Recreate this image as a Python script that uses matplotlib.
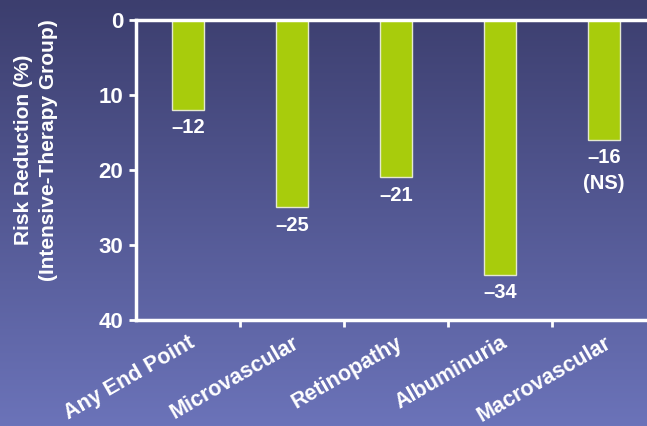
import numpy as np
import matplotlib
matplotlib.use("Agg")
from matplotlib import pyplot as plt

categories = ["Any End Point", "Microvascular", "Retinopathy", "Albuminuria", "Macrovascular"]
reduction = [12, 25, 21, 34, 16]
value_labels = ["\u201312", "\u201325", "\u201321", "\u201334", "\u201316\n(NS)"]
y_ticks = [0, 10, 20, 30, 40]

plt.rcParams['font.family'] = ['Liberation Sans', 'DejaVu Sans']
plt.rcParams['font.weight'] = 'bold'

fig = plt.figure(figsize=(6.47, 4.26), dpi=100)

# gradient background
bg = fig.add_axes([0, 0, 1, 1], zorder=-1)
top = np.array([60, 62, 110]) / 255.0
bottom = np.array([107, 115, 185]) / 255.0
t = np.linspace(0, 1, 256)[:, None]
grad = top * (1 - t) + bottom * t
bg.imshow(grad[:, None, :].repeat(2, axis=1), aspect='auto', extent=[0, 1, 0, 1])
bg.axis('off')

ax = fig.add_axes([0.210, 0.249, 0.804, 0.704])
ax.patch.set_alpha(0)
x = np.arange(len(categories))
bars = ax.bar(x, reduction, width=0.31, color='#a8cc0c', edgecolor='#e4e8d0', linewidth=1)

ax.set_xlim(-0.5, len(categories) - 0.5)
ax.set_ylim(40, 0)
ax.set_yticks(y_ticks)
ax.set_yticklabels([str(v) for v in y_ticks], fontsize=16, color='white', fontweight='bold')

ax.set_xticks(x)
ax.set_xticklabels(categories, rotation=30, ha='right', rotation_mode='anchor',
                   fontsize=15.5, color='white', fontweight='bold')
ax.tick_params(axis='x', length=0, pad=9)
ax.set_xticks(x[:-1] + 0.5, minor=True)
ax.tick_params(axis='x', which='minor', length=5, width=2, color='white')
ax.tick_params(axis='y', length=5, width=2, color='white', pad=4)

for s in ['left', 'top', 'bottom']:
    ax.spines[s].set_color('white')
    ax.spines[s].set_linewidth(2.5)
ax.spines['right'].set_visible(False)

for xi, v, lab in zip(x, reduction, value_labels):
    ax.annotate(lab, (xi, v), xytext=(0, -6), textcoords='offset points',
                ha='center', va='top', fontsize=14.5, color='white', fontweight='bold',
                linespacing=1.45)

fig.text(0.056, 0.648, "Risk Reduction (%)\n(Intensive-Therapy Group)", rotation=90,
         ha='center', va='center', fontsize=15, color='white', fontweight='bold',
         linespacing=1.4)

fig.savefig("out.png", dpi=100)
